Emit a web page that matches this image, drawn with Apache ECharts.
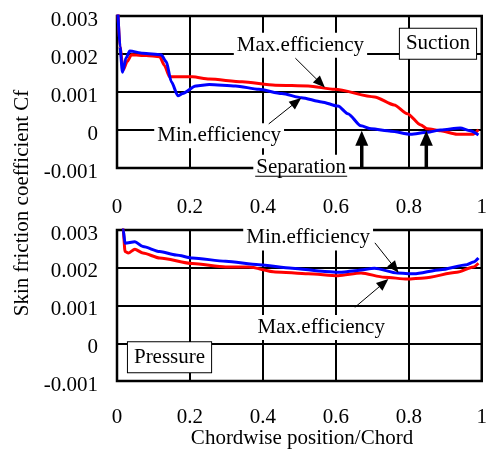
<!DOCTYPE html>
<html><head><meta charset="utf-8">
<script src="https://cdn.jsdelivr.net/npm/echarts@6/dist/echarts.min.js"></script>
<style>html,body{margin:0;padding:0;background:#fff}#c{width:490px;height:457px}</style>
</head><body><div id="c"></div>
<script>
// ---- data ----
const xTicks = [0, 0.2, 0.4, 0.6, 0.8, 1];
const yTicks = [-0.001, 0, 0.001, 0.002, 0.003];

const suctionMaxX = [0.002, 0.008, 0.017, 0.028, 0.04, 0.08, 0.117, 0.13, 0.144, 0.207, 0.253, 0.343, 0.434, 0.524, 0.597, 0.706, 0.760, 0.796, 0.833, 0.851, 0.887, 0.932, 0.977, 0.991];
const suctionMaxY = [0.0032, 0.0022, 0.00158, 0.0018, 0.00198, 0.00196, 0.00193, 0.0017, 0.0014, 0.0014, 0.00134, 0.00127, 0.00118, 0.00116, 0.00107, 0.00087, 0.00066, 0.00043, 0.00013, 0.00003, -0.00002, -0.00011, -0.00011, 0.00001];

const suctionMinX = [0.002, 0.008, 0.015, 0.025, 0.035, 0.071, 0.121, 0.135, 0.149, 0.167, 0.180, 0.216, 0.253, 0.325, 0.389, 0.452, 0.506, 0.561, 0.606, 0.633, 0.669, 0.697, 0.751, 0.805, 0.851, 0.887, 0.941, 0.968, 0.991];
const suctionMinY = [0.0032, 0.0022, 0.00152, 0.0019, 0.00208, 0.00202, 0.00198, 0.0018, 0.00127, 0.0009, 0.00096, 0.00116, 0.0012, 0.00116, 0.00107, 0.00096, 0.00085, 0.00074, 0.00063, 0.00043, 0.00011, 0.00003, -0.00003, -0.00011, -0.00006, 0.0, 0.00005, -0.00002, -0.00013];

const pressureMinX = [0.012, 0.017, 0.022, 0.049, 0.071, 0.117, 0.162, 0.207, 0.298, 0.389, 0.480, 0.570, 0.615, 0.660, 0.706, 0.769, 0.814, 0.887, 0.959, 0.977, 0.991];
const pressureMinY = [0.0035, 0.003, 0.00265, 0.00269, 0.00256, 0.00243, 0.00234, 0.00226, 0.00217, 0.00208, 0.00199, 0.0019, 0.00188, 0.00193, 0.00199, 0.00186, 0.00184, 0.00195, 0.00208, 0.00215, 0.00226];

const pressureMaxX = [0.012, 0.017, 0.022, 0.031, 0.049, 0.071, 0.117, 0.207, 0.298, 0.361, 0.434, 0.524, 0.606, 0.669, 0.733, 0.796, 0.842, 0.932, 0.977, 0.991];
const pressureMaxY = [0.0035, 0.003, 0.00243, 0.00239, 0.00249, 0.00239, 0.00226, 0.00211, 0.00202, 0.00202, 0.00189, 0.00184, 0.00179, 0.00186, 0.00175, 0.0017, 0.00173, 0.00188, 0.00202, 0.00212];

const separationX = [0.671, 0.848];

const FONT = "'Liberation Serif', 'Times New Roman', serif";
const FS = 21;
const zip = (xs, ys) => xs.map((x, i) => [x, ys[i]]);

const chart = echarts.init(document.getElementById('c'), null, {renderer: 'canvas'});

function xAxis(gi, margin) {
  return {
    type: 'value', gridIndex: gi, min: xTicks[0], max: xTicks[xTicks.length - 1], interval: 0.2,
    axisLine: {show: false}, axisTick: {show: false},
    splitLine: {show: true, lineStyle: {color: '#000', width: 2}},
    axisLabel: {color: '#000', fontFamily: FONT, fontSize: FS, margin,
      formatter: v => String(Number(v.toFixed(1)))}
  };
}
function yAxis(gi) {
  return {
    type: 'value', gridIndex: gi, min: yTicks[0], max: yTicks[yTicks.length - 1], interval: 0.001,
    axisLine: {show: false}, axisTick: {show: false},
    splitLine: {show: true, lineStyle: {color: '#000', width: 2}},
    axisLabel: {color: '#000', fontFamily: FONT, fontSize: FS, margin: 19,
      verticalAlign: 'top', lineHeight: 8,
      formatter: v => String(Number(v.toFixed(3)))}
  };
}
function line(name, gi, data, color) {
  return {
    name, type: 'line', xAxisIndex: gi, yAxisIndex: gi, data,
    showSymbol: false, smooth: 0.25, smoothMonotone: 'x', clip: true,
    lineStyle: {color, width: 3}, itemStyle: {color}, z: 5, animation: false
  };
}

chart.setOption({
  animation: false,
  grid: [
    {left: 117, top: 16, width: 368, height: 152, show: true, borderColor: '#000', borderWidth: 2.5, backgroundColor: 'transparent'},
    {left: 117, top: 230, width: 368, height: 151, show: true, borderColor: '#000', borderWidth: 2.5, backgroundColor: 'transparent'}
  ],
  xAxis: [xAxis(0, 29), xAxis(1, 26)],
  yAxis: [yAxis(0), yAxis(1)],
  series: [
    line('Suction Max.efficiency', 0, zip(suctionMaxX, suctionMaxY), '#ff0000'),
    line('Suction Min.efficiency', 0, zip(suctionMinX, suctionMinY), '#0000ff'),
    line('Pressure Max.efficiency', 1, zip(pressureMaxX, pressureMaxY), '#ff0000'),
    line('Pressure Min.efficiency', 1, zip(pressureMinX, pressureMinY), '#0000ff')
  ]
});

// ---- annotations (placed in data coordinates) ----
const P = (gi, x, y) => chart.convertToPixel({gridIndex: gi}, [x, y]);
const G = [];
function label(gi, x, y, text, boxed) {
  const p = P(gi, x, y);
  G.push({type: 'text', z: 100, style: {
    text, x: p[0], y: p[1], align: 'center', verticalAlign: 'middle',
    font: FS + 'px ' + FONT, fill: '#000', backgroundColor: '#fff',
    padding: boxed ? [5, 6, 4, 6] : [2, 3, 2, 3],
    borderColor: boxed ? '#000' : null, borderWidth: boxed ? 1 : 0
  }});
}
function arrow(gi, x1, y1, x2, y2, w, hl, hw) {
  const a = P(gi, x1, y1), b = P(gi, x2, y2);
  const dx = b[0] - a[0], dy = b[1] - a[1], L = Math.hypot(dx, dy);
  const ux = dx / L, uy = dy / L;
  const bx = b[0] - ux * hl, by = b[1] - uy * hl;
  G.push({type: 'line', z: 100, shape: {x1: a[0], y1: a[1], x2: bx + ux * 1, y2: by + uy * 1},
    style: {stroke: '#000', lineWidth: w}});
  G.push({type: 'polygon', z: 100, shape: {points: [
    [b[0], b[1]], [bx - uy * hw, by + ux * hw], [bx + uy * hw, by - ux * hw]]},
    style: {fill: '#000'}});
}

// suction plot
label(0, 0.503, 0.00223, 'Max.efficiency');
arrow(0, 0.489, 0.00189, 0.570, 0.00112, 1, 12, 5);
label(0, 0.880, 0.00227, 'Suction', true);
label(0, 0.280, -0.00015, 'Min.efficiency');
arrow(0, 0.416, 0.00016, 0.505, 0.00084, 1, 12, 5);
label(0, 0.505, -0.00098, 'Separation');
(function () {
  const c = P(0, 0.505, -0.00098);
  G.push({type: 'line', z: 101, shape: {x1: c[0] - 46, y1: c[1] + 9, x2: c[0] + 46, y2: c[1] + 9},
    style: {stroke: '#000', lineWidth: 1}});
})();
separationX.forEach(x => arrow(0, x, -0.001, x, -0.00002, 3.5, 15, 6.5));

// pressure plot
label(1, 0.524, 0.00279, 'Min.efficiency');
arrow(1, 0.707, 0.00266, 0.772, 0.00187, 1, 12, 5);
label(1, 0.560, 0.00042, 'Max.efficiency');
arrow(1, 0.652, 0.00095, 0.744, 0.00170, 1, 12, 5);
label(1, 0.144, -0.00037, 'Pressure', true);

// axis titles
G.push({type: 'text', z: 100, style: {text: 'Chordwise position/Chord', x: 302, y: 438,
  align: 'center', verticalAlign: 'middle', font: FS + 'px ' + FONT, fill: '#000'}});
G.push({type: 'text', z: 100, rotation: Math.PI / 2, x: 22, y: 203, style: {text: 'Skin friction coefficient Cf',
  x: 0, y: 0, align: 'center', verticalAlign: 'middle', font: FS + 'px ' + FONT, fill: '#000'}});

chart.setOption({graphic: G});
</script></body></html>
